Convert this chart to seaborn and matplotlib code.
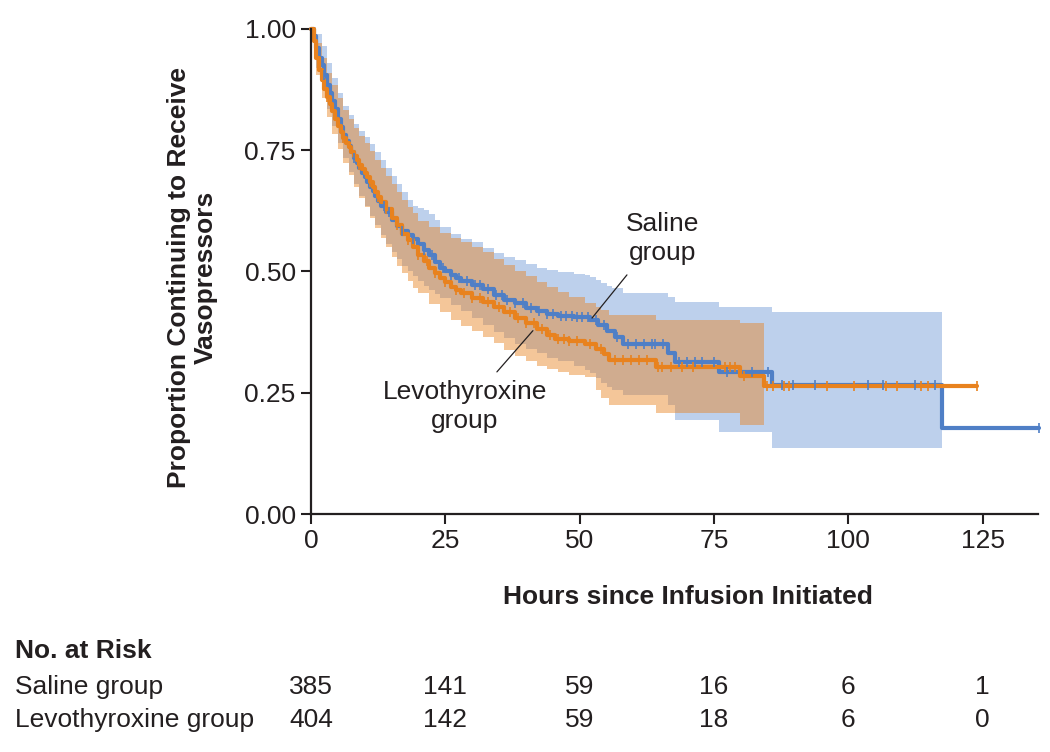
import numpy as np
import pandas as pd
import matplotlib
matplotlib.use("Agg")
import matplotlib.pyplot as plt
import matplotlib.transforms as mtransforms
import seaborn as sns

# ---------------- data ----------------
sal_t = [0, 0.5, 1.0, 1.5, 2.0, 2.5, 3.0, 3.5, 4.0, 4.5, 5.0, 5.5, 6.0, 6.5, 7.0, 7.5, 8.0, 8.5,
         9.0, 9.5, 10, 10.5, 11, 11.5, 12, 12.5, 13, 14, 15, 16, 17, 18, 19, 20, 21, 22, 23, 24,
         25, 26, 27, 28, 30, 32, 34, 36, 38, 40, 42, 44, 46, 49, 52, 53.5, 55, 56.5, 58, 66.5,
         67.8, 76, 85.8, 117.5, 135.5]
sal_s = [1.000, 0.985, 0.960, 0.940, 0.925, 0.905, 0.885, 0.868, 0.852, 0.835, 0.815, 0.798,
         0.782, 0.770, 0.758, 0.746, 0.735, 0.724, 0.714, 0.704, 0.694, 0.684, 0.675, 0.665,
         0.655, 0.645, 0.635, 0.622, 0.607, 0.594, 0.584, 0.575, 0.566, 0.556, 0.545, 0.533,
         0.520, 0.508, 0.500, 0.492, 0.486, 0.480, 0.472, 0.463, 0.452, 0.442, 0.435, 0.425,
         0.418, 0.412, 0.408, 0.406, 0.400, 0.390, 0.378, 0.365, 0.350, 0.332, 0.313, 0.293,
         0.266, 0.177, 0.177]

levo_t = [0, 0.5, 1.0, 1.5, 2.0, 2.5, 3.0, 3.5, 4.0, 4.5, 5.0, 5.5, 6.0, 6.5, 7.0, 7.5, 8.0, 8.5,
          9.0, 9.5, 10, 10.5, 11, 11.5, 12, 12.5, 13, 14, 15, 16, 17, 18, 19, 20, 21, 22, 23, 24,
          25, 26, 27, 28, 30, 32, 34, 36, 38, 40, 42, 44, 45.5, 48, 51, 53, 54.5, 55.5, 64.3,
          79.8, 84.3, 124]
levo_s = [1.000, 0.975, 0.940, 0.915, 0.895, 0.877, 0.860, 0.845, 0.830, 0.815, 0.800, 0.788,
          0.776, 0.765, 0.756, 0.747, 0.738, 0.729, 0.720, 0.712, 0.704, 0.694, 0.684, 0.674,
          0.664, 0.654, 0.644, 0.628, 0.611, 0.595, 0.578, 0.564, 0.550, 0.535, 0.522, 0.508,
          0.497, 0.487, 0.478, 0.468, 0.462, 0.456, 0.446, 0.438, 0.427, 0.416, 0.404, 0.393,
          0.382, 0.370, 0.360, 0.357, 0.350, 0.340, 0.330, 0.318, 0.303, 0.284, 0.263, 0.263]

sal_ci_t = [0, 0.5, 1, 2, 3, 4, 5, 6, 7, 8, 9, 10, 11, 12, 13, 14, 15, 16, 17, 18, 19, 20, 21,
            22, 23, 24, 26, 28, 30, 32, 34, 36, 38, 40, 42, 44, 46, 49, 51, 52, 53, 54, 55, 56,
            58, 66.5, 67.8, 76, 85.8, 117.5]
sal_ci_hi = [1.000, 0.998, 0.990, 0.965, 0.930, 0.898, 0.868, 0.842, 0.822, 0.805, 0.790, 0.778,
             0.762, 0.746, 0.730, 0.714, 0.697, 0.680, 0.664, 0.648, 0.636, 0.630, 0.626, 0.618,
             0.606, 0.592, 0.578, 0.568, 0.560, 0.548, 0.538, 0.530, 0.524, 0.515, 0.508, 0.503,
             0.498, 0.495, 0.492, 0.488, 0.482, 0.476, 0.470, 0.466, 0.456, 0.447, 0.437, 0.427,
             0.417, 0.417]
sal_ci_lo = [1.000, 0.960, 0.920, 0.875, 0.835, 0.800, 0.765, 0.735, 0.705, 0.680, 0.655, 0.635,
             0.615, 0.595, 0.575, 0.557, 0.540, 0.525, 0.512, 0.500, 0.490, 0.480, 0.471, 0.462,
             0.453, 0.445, 0.430, 0.418, 0.405, 0.390, 0.375, 0.362, 0.350, 0.340, 0.332, 0.322,
             0.315, 0.305, 0.297, 0.290, 0.280, 0.270, 0.262, 0.255, 0.245, 0.225, 0.194, 0.169,
             0.136, 0.136]

levo_ci_t = [0, 0.5, 1, 2, 3, 4, 5, 6, 7, 8, 9, 10, 11, 12, 13, 14, 15, 16, 17, 18, 19, 20, 22,
             24, 26, 28, 30, 32, 34, 36, 38, 40, 42, 44, 46, 48, 51, 53, 54, 55.5, 64.3, 79.8, 84.3]
levo_ci_hi = [1.000, 0.992, 0.972, 0.940, 0.910, 0.884, 0.858, 0.834, 0.814, 0.796, 0.780, 0.764,
              0.748, 0.730, 0.713, 0.697, 0.680, 0.664, 0.648, 0.634, 0.620, 0.604, 0.592, 0.580,
              0.570, 0.560, 0.550, 0.540, 0.526, 0.513, 0.500, 0.490, 0.478, 0.468, 0.458, 0.448,
              0.436, 0.426, 0.420, 0.410, 0.400, 0.394, 0.394]
levo_ci_lo = [1.000, 0.950, 0.905, 0.858, 0.818, 0.783, 0.752, 0.724, 0.698, 0.674, 0.652, 0.632,
              0.610, 0.590, 0.570, 0.550, 0.530, 0.512, 0.496, 0.481, 0.467, 0.455, 0.434, 0.416,
              0.400, 0.388, 0.377, 0.365, 0.352, 0.338, 0.326, 0.315, 0.306, 0.298, 0.292, 0.287,
              0.283, 0.255, 0.239, 0.225, 0.208, 0.184, 0.184]

sal_cens = [2.5, 8, 13.5, 14.5, 17, 19, 21, 22.5, 24.5, 26, 27.5, 29, 30.5, 31.5, 33, 34.5, 35.5,
            36.5, 38, 39.5, 41, 42.5, 44, 45, 46.5, 47.5, 48.5, 49.5, 50.5, 51.5, 53, 54.5, 57,
            59, 60.5, 62, 63.5, 64, 65.5, 68.5, 70, 71.5, 72.7, 75, 77.5, 82, 85, 87.6, 89.7,
            93.8, 103.7, 106.5, 112.4, 116.1, 135.5]
levo_cens = [3, 6, 9, 11, 12.5, 14, 16, 18, 20, 21.5, 23, 25, 27, 28.5, 30, 31.5, 33, 35, 37,
             38.5, 40, 41.5, 43, 44.5, 46, 47, 48, 49.5, 52, 54, 56.5, 58, 59.5, 61, 62.5, 64.5,
             65.3, 67, 69, 71, 77, 78, 79, 80.5, 84.9, 85.9, 88, 89, 96, 101, 107, 109, 113.6,
             114.8, 124]

risk_times = [0, 25, 50, 75, 100, 125]
risk_groups = ["Saline group", "Levothyroxine group"]
risk_saline = [385, 141, 59, 16, 6, 1]
risk_levo = [404, 142, 59, 18, 6, 0]

x_ticks = [0, 25, 50, 75, 100, 125]
y_ticks = [0.00, 0.25, 0.50, 0.75, 1.00]

# ---------------- style ----------------
BLUE = "#4F7FC6"
ORANGE = "#E8821E"
BLUE_FILL = "#5B8BD0"
TXT = "#231F20"

sns.set_style("ticks")
plt.rcParams["font.family"] = ["Liberation Sans", "DejaVu Sans"]
FS = 19

fig = plt.figure(figsize=(10.5, 7.52), dpi=100)
ax = fig.add_axes([311 / 1050, 1 - 514 / 752, (1038 - 311) / 1050, (514 - 29) / 752])


def step_at(times, surv, pts):
    idx = np.searchsorted(np.asarray(times), np.asarray(pts), side="right") - 1
    return np.asarray(surv)[idx]


# CI bands
ax.fill_between(sal_ci_t, sal_ci_lo, sal_ci_hi, step="post", color=BLUE_FILL, alpha=0.4,
                linewidth=0)
ax.fill_between(levo_ci_t, levo_ci_lo, levo_ci_hi, step="post", color=ORANGE, alpha=0.45,
                linewidth=0)

# curves
sal_df = pd.DataFrame({"t": sal_t, "s": sal_s})
levo_df = pd.DataFrame({"t": levo_t, "s": levo_s})
sns.lineplot(data=sal_df, x="t", y="s", ax=ax, color=BLUE, lw=3.0, drawstyle="steps-post",
             estimator=None, sort=False, clip_on=False)
sns.lineplot(data=levo_df, x="t", y="s", ax=ax, color=ORANGE, lw=3.0, drawstyle="steps-post",
             estimator=None, sort=False, clip_on=False)

# censor marks
sal_c = pd.DataFrame({"t": sal_cens, "s": step_at(sal_t, sal_s, sal_cens)})
levo_c = pd.DataFrame({"t": levo_cens, "s": step_at(levo_t, levo_s, levo_cens)})
sns.scatterplot(data=sal_c, x="t", y="s", ax=ax, marker="|", s=60, linewidth=1.2,
                color=BLUE, clip_on=False, zorder=3)
sns.scatterplot(data=levo_c, x="t", y="s", ax=ax, marker="|", s=60, linewidth=1.2,
                color=ORANGE, clip_on=False, zorder=3)

# axes
ax.set_xlim(0, 135.3)
ax.set_ylim(0, 1.0)
ax.set_xticks(x_ticks)
ax.set_xticklabels([str(v) for v in x_ticks])
ax.set_yticks(y_ticks)
ax.set_yticklabels([f"{v:.2f}" for v in y_ticks])
ax.set_xlabel("")
ax.set_ylabel("")
for sp in ["top", "right"]:
    ax.spines[sp].set_visible(False)
for sp in ["left", "bottom"]:
    ax.spines[sp].set_color(TXT)
    ax.spines[sp].set_linewidth(1.6)
ax.tick_params(axis="both", direction="out", length=7, width=1.5, color=TXT,
               labelsize=FS, labelcolor=TXT, pad=4)

# annotations
ax.plot([58.8, 52.3], [0.493, 0.404], color=TXT, lw=0.9)
ax.text(65.5, 0.568, "Saline\ngroup", ha="center", va="center", fontsize=FS, color=TXT,
        linespacing=1.25)
ax.plot([41.3, 34.6], [0.378, 0.293], color=TXT, lw=0.9)
ax.text(28.6, 0.222, "Levothyroxine\ngroup", ha="center", va="center", fontsize=FS, color=TXT,
        linespacing=1.25)

# axis titles
fig.text(192 / 1050, 1 - 277 / 752, "Proportion Continuing to Receive\nVasopressors",
         rotation=90, ha="center", va="center", fontsize=FS, fontweight="bold", color=TXT,
         linespacing=1.15)
fig.text(688 / 1050, 1 - 597 / 752, "Hours since Infusion Initiated", ha="center",
         va="center", fontsize=FS, fontweight="bold", color=TXT)

# number at risk table
trans = mtransforms.blended_transform_factory(ax.transData, fig.transFigure)
fig.text(15 / 1050, 1 - 651 / 752, "No. at Risk", ha="left", va="center", fontsize=FS,
         fontweight="bold", color=TXT)
for row_y, name, vals in [(687, risk_groups[0], risk_saline), (720, risk_groups[1], risk_levo)]:
    fig.text(15 / 1050, 1 - row_y / 752, name, ha="left", va="center", fontsize=FS, color=TXT)
    for tt, v in zip(risk_times, vals):
        ax.text(tt, 1 - row_y / 752, str(v), transform=trans, ha="center", va="center",
                fontsize=FS, color=TXT, clip_on=False)

fig.savefig("out.png", dpi=100, facecolor="white")
